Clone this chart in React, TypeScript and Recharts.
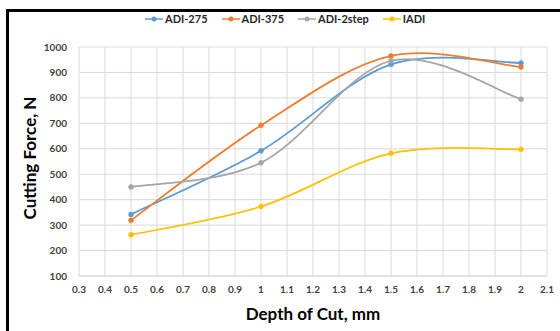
import React from 'react';
import { LineChart, Line, XAxis, YAxis, CartesianGrid } from 'recharts';

const depths = [0.5, 1, 1.5, 2];
const adi275 = [342, 592, 932, 937];
const adi375 = [319, 692, 965, 921];
const adi2step = [450, 545, 946, 795];
const iadi = [262, 373, 582, 598];

const xTicks = [0.3, 0.4, 0.5, 0.6, 0.7, 0.8, 0.9, 1, 1.1, 1.2, 1.3, 1.4, 1.5, 1.6, 1.7, 1.8, 1.9, 2, 2.1];
const yTicks = [100, 200, 300, 400, 500, 600, 700, 800, 900, 1000];

const SERIES = [
  { key: 'adi275', name: 'ADI-275', color: '#5B9BD5' },
  { key: 'adi375', name: 'ADI-375', color: '#ED7D31' },
  { key: 'adi2step', name: 'ADI-2step', color: '#A5A5A5' },
  { key: 'iadi', name: 'IADI', color: '#FFC000' },
];

const chartData = depths.map((d, i) => ({
  depth: d,
  adi275: adi275[i],
  adi375: adi375[i],
  adi2step: adi2step[i],
  iadi: iadi[i],
}));

// excel-style smoothed line (catmull-rom through the points)
const smoothCurve = (context: any) => {
  let pts: number[][] = [];
  return {
    areaStart() {},
    areaEnd() {},
    lineStart() {
      pts = [];
    },
    point(x: number, y: number) {
      pts.push([+x, +y]);
    },
    lineEnd() {
      const n = pts.length;
      if (!n) return;
      context.moveTo(pts[0][0], pts[0][1]);
      for (let i = 0; i < n - 1; i++) {
        const p0 = pts[i - 1] || pts[i];
        const p1 = pts[i];
        const p2 = pts[i + 1];
        const p3 = pts[i + 2] || p2;
        context.bezierCurveTo(
          p1[0] + (p2[0] - p0[0]) / 6,
          p1[1] + (p2[1] - p0[1]) / 6,
          p2[0] - (p3[0] - p1[0]) / 6,
          p2[1] - (p3[1] - p1[1]) / 6,
          p2[0],
          p2[1]
        );
      }
    },
  };
};

const FONT = "Lato, 'Open Sans', sans-serif";

const LegendBox = () => (
  <div style={{ position: 'absolute', left: 145, top: 12, display: 'flex', gap: 14, fontFamily: FONT, fontWeight: 700, fontSize: 11, color: '#262626', lineHeight: '14px' }}>
    {SERIES.map((s) => (
      <div key={s.key} style={{ display: 'flex', alignItems: 'center' }}>
        <svg width={18} height={8} style={{ marginRight: 2 }}>
          <line x1={0} y1={4} x2={18} y2={4} stroke={s.color} strokeWidth={1.5} />
          <circle cx={9} cy={4} r={2.5} fill={s.color} />
        </svg>
        <span>{s.name}</span>
      </div>
    ))}
  </div>
);

export default function App() {
  return (
    <div style={{ position: 'absolute', left: 0, top: 0, width: 560, height: 331, background: '#fff', overflow: 'hidden' }}>
      <div style={{ position: 'absolute', left: 6, top: 9, width: 560, height: 330, borderTop: '3px solid #000', borderLeft: '3px solid #000' }} />
      <LineChart width={560} height={331} data={chartData} margin={{ top: 47, right: 13, bottom: 35, left: 35 }}>
        <CartesianGrid stroke="#d9d9d9" strokeWidth={1} />
        <XAxis
          dataKey="depth"
          type="number"
          domain={[0.3, 2.1]}
          ticks={xTicks}
          interval={0}
          tickLine={false}
          axisLine={{ stroke: '#d9d9d9' }}
          height={20}
          tick={{ fill: '#404040', fontSize: 10, fontWeight: 700, fontFamily: FONT }}
          tickMargin={4}
        />
        <YAxis
          type="number"
          domain={[100, 1000]}
          ticks={yTicks}
          interval={0}
          tickLine={false}
          axisLine={false}
          width={44}
          tick={{ fill: '#404040', fontSize: 10, fontWeight: 700, fontFamily: FONT }}
          tickMargin={6}
        />
        {SERIES.map((s) => (
          <Line
            key={s.key}
            dataKey={s.key}
            name={s.name}
            type={smoothCurve as any}
            stroke={s.color}
            strokeWidth={1.75}
            dot={{ r: 2.5, fill: s.color, stroke: s.color, strokeWidth: 0.5 }}
            activeDot={false}
            isAnimationActive={false}
          />
        ))}
      </LineChart>
      <LegendBox />
      <div style={{ position: 'absolute', left: 313, top: 313, transform: 'translate(-50%, -50%)', fontFamily: FONT, fontWeight: 700, fontSize: 17, color: '#000', whiteSpace: 'nowrap' }}>
        Depth of Cut, mm
      </div>
      <div style={{ position: 'absolute', left: 29, top: 158, transform: 'translate(-50%, -50%) rotate(-90deg)', fontFamily: FONT, fontWeight: 700, fontSize: 17, color: '#000', whiteSpace: 'nowrap' }}>
        Cutting Force, N
      </div>
    </div>
  );
}
